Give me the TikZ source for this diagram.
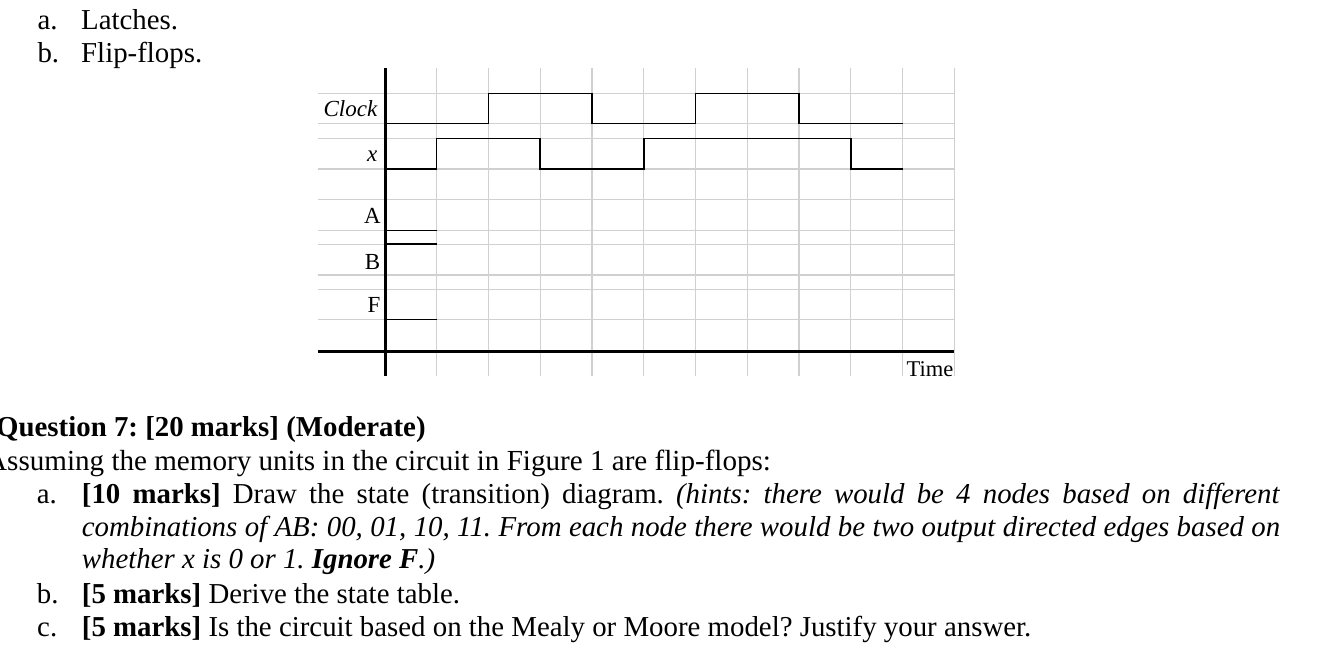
\documentclass[tikz,border=0pt]{standalone}
\usepackage{fontspec}
\setmainfont{Liberation Serif}
\definecolor{gridgray}{RGB}{208,208,208}
\begin{document}
\frenchspacing
\begin{tikzpicture}[x=1pt,y=-1pt,
  gridline/.style={draw=gridgray, line width=1.3pt},
  wave/.style={draw=black, line width=1.5pt},
  axisline/.style={draw=black, line width=3.4pt},
  body/.style={anchor=base west, inner sep=0pt, font=\fontsize{28.85}{33.3}\selectfont\frenchspacing},
  lbl/.style={anchor=base east, inner sep=0pt, font=\fontsize{23}{26}\selectfont},
  lblw/.style={anchor=base west, inner sep=0pt, font=\fontsize{22.5}{26}\selectfont}]
\useasboundingbox (0,0) rectangle (1322,654);
\clip (0,0) rectangle (1322,654);
\fill[white] (0,0) rectangle (1322,654);
% top list
\node[body] (la) at (37.3,29.3) {a.};
\node[body] (lat) at (81,29.3) {Latches.};
\node[body] (lb) at (37.3,62.3) {b.};
\node[body] (flip) at (81,62.3) {Flip-flops.};
% grid
\foreach \gx in {436.7,488.5,540.2,592,643.8,695.5,747.3,799,850.8,902.6,954.3}
  \draw[gridline] (\gx,68) -- (\gx,376);
\foreach \gy in {93.3,123.3,138.3,169,199.3,230.5,244.2,275,289.3,319.3}
  \draw[gridline] (318,\gy) -- (954.3,\gy);
% axes
\draw[axisline] (385.7,68) -- (385.7,376);
\draw[axisline] (318,351.7) -- (954.3,351.7);
% waveforms
\draw[wave] (385.7,123.3) -| (488.5,93.3) -| (592,123.3) -| (695.5,93.3) -| (799,123.3) -- (902.6,123.3);
\draw[wave] (385.7,169) -| (436.7,138.3) -| (540.2,169) -| (643.8,138.3) -| (850.8,169) -- (902.6,169);
\draw[wave] (385.7,230.5) -- (436.7,230.5);
\draw[wave] (385.7,244.2) -- (436.7,244.2);
\draw[wave] (385.7,319.3) -- (436.7,319.3);
% labels
\node[lbl] (clk) at (377.5,116.7) {\itshape Clock};
\node[lbl] (xl) at (377.5,161) {\itshape x};
\node[lbl] (al) at (381,223.3) {A};
\node[lbl] (bl) at (380.5,269) {B};
\node[lbl] (fl) at (380.5,312.3) {F};
\node[lblw] (tm) at (906.5,376) {Time};
% question text
\node[body] (q7) at (-4,436.7) {\bfseries Question 7: [20 marks] (Moderate)};
\node[body, font=\fontsize{29.1}{33.3}\selectfont\frenchspacing] (assum) at (-14,470) {Assuming the memory units in the circuit in Figure 1 are flip-flops:};
\node[body] (qa) at (36.7,503.3) {a.};
\node[body] (qat) at (81.7,503.3) {\makebox[1198.3pt][s]{\textbf{[10 marks]} Draw the state (transition) diagram. \textit{(hints: there would be 4 nodes based on different}}};
\node[body] (qa2) at (81.7,536) {\makebox[1198.3pt][s]{\itshape combinations of AB: 00, 01, 10, 11. From each node there would be two output directed edges based on}};
\node[body] (qa3) at (81.7,568.3) {\itshape whether x is 0 or 1. \textbf{Ignore F}.)};
\node[body] (qb) at (36.7,603.3) {b.};
\node[body] (qbt) at (81.7,603.3) {\textbf{[5 marks]} Derive the state table.};
\node[body] (qc) at (37,636.7) {c.};
\node[body] (qct) at (81.7,636.7) {\textbf{[5 marks]} Is the circuit based on the Mealy or Moore model? Justify your answer.};
\end{tikzpicture}
\end{document}
